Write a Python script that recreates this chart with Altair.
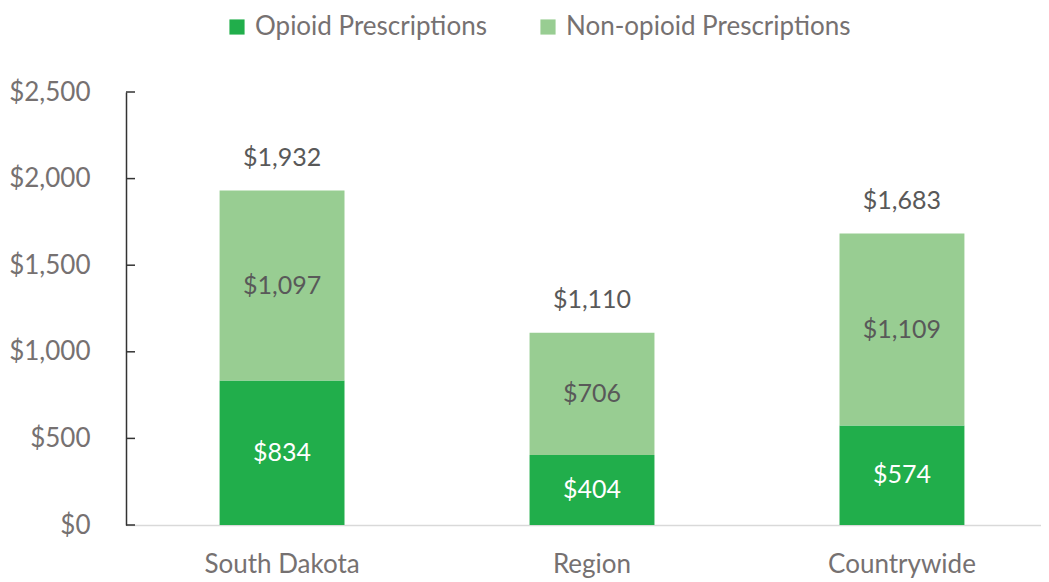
import altair as alt
import pandas as pd

regions = ["South Dakota", "Region", "Countrywide"]
opioid = [834, 404, 574]
non_opioid = [1097, 706, 1109]
totals = [1932, 1110, 1683]
series = ["Opioid Prescriptions", "Non-opioid Prescriptions"]
y_ticks = [0, 500, 1000, 1500, 2000, 2500]

rows = []
for r, o, n in zip(regions, opioid, non_opioid):
    rows.append({"region": r, "series": series[0], "value": o, "start": 0, "end": o, "order": 0})
    rows.append({"region": r, "series": series[1], "value": n, "start": o, "end": o + n, "order": 1})
df = pd.DataFrame(rows)
df["mid"] = (df["start"] + df["end"]) / 2
df["label"] = df["value"].map(lambda v: f"${v:,.0f}")
tot = pd.DataFrame({"region": regions, "total": totals,
                    "top": [o + n for o, n in zip(opioid, non_opioid)]})
tot["label"] = tot["total"].map(lambda v: f"${v:,.0f}")
ticks = pd.DataFrame({"t": y_ticks})

FONT = "Lato"
AX = "#767171"
DL = "#595959"

xscale = alt.Scale(paddingInner=0.597, paddingOuter=0.2745, align=0.55)
xenc = alt.X("region:N", sort=regions, title=None, scale=xscale,
             axis=alt.Axis(labelAngle=0, labelFont=FONT, labelFontSize=26, labelColor=AX,
                           domainColor="#d9d9d9", domainWidth=1.5, ticks=False, labelPadding=26))
yscale = alt.Scale(domain=[0, 2500])

bars = alt.Chart(df).mark_bar().encode(
    x=xenc,
    y=alt.Y("start:Q", scale=yscale, title=None,
            axis=alt.Axis(values=y_ticks, format="$,.0f", labelFont=FONT, labelFontSize=26,
                          labelColor=AX, grid=False, ticks=False, domainColor="#333333",
                          domainWidth=1.5, labelPadding=36)),
    y2="end:Q",
    color=alt.Color("series:N", sort=series,
                    scale=alt.Scale(domain=series, range=["#21ae4b", "#98cd92"]),
                    legend=alt.Legend(title=None, orient="none", direction="horizontal",
                                      legendX=98, legendY=-78, symbolType="square",
                                      symbolSize=230, symbolStrokeWidth=0, labelFont=FONT,
                                      labelFontSize=26, labelColor=AX, columnPadding=48,
                                      labelOffset=5, labelLimit=500)),
    order=alt.Order("order:Q"),
)

seg_labels = alt.Chart(df).mark_text(font=FONT, fontSize=25, baseline="middle").encode(
    x=alt.X("region:N", sort=regions, scale=xscale),
    y=alt.Y("mid:Q", scale=yscale),
    text="label:N",
    color=alt.Color("series:N", scale=alt.Scale(domain=series, range=["#ffffff", DL]), legend=None),
)

tot_labels = alt.Chart(tot).mark_text(font=FONT, fontSize=25, baseline="bottom", dy=-20, color=DL).encode(
    x=alt.X("region:N", sort=regions, scale=xscale),
    y=alt.Y("top:Q", scale=yscale),
    text="label:N",
)

tick_marks = alt.Chart(ticks).mark_rule(color="#333333", strokeWidth=1.5).encode(
    y=alt.Y("t:Q", scale=yscale),
    x=alt.value(0),
    x2=alt.value(9),
)

chart = alt.layer(bars, seg_labels, tot_labels, tick_marks).resolve_scale(color="independent").properties(
    width=915, height=433,
    autosize=alt.AutoSizeParams(type="none"),
    padding={"left": 118, "top": 84, "right": 0, "bottom": 56},
).configure_view(stroke=None)

chart.save("out.html", embed_options={"renderer": "svg", "actions": False})
